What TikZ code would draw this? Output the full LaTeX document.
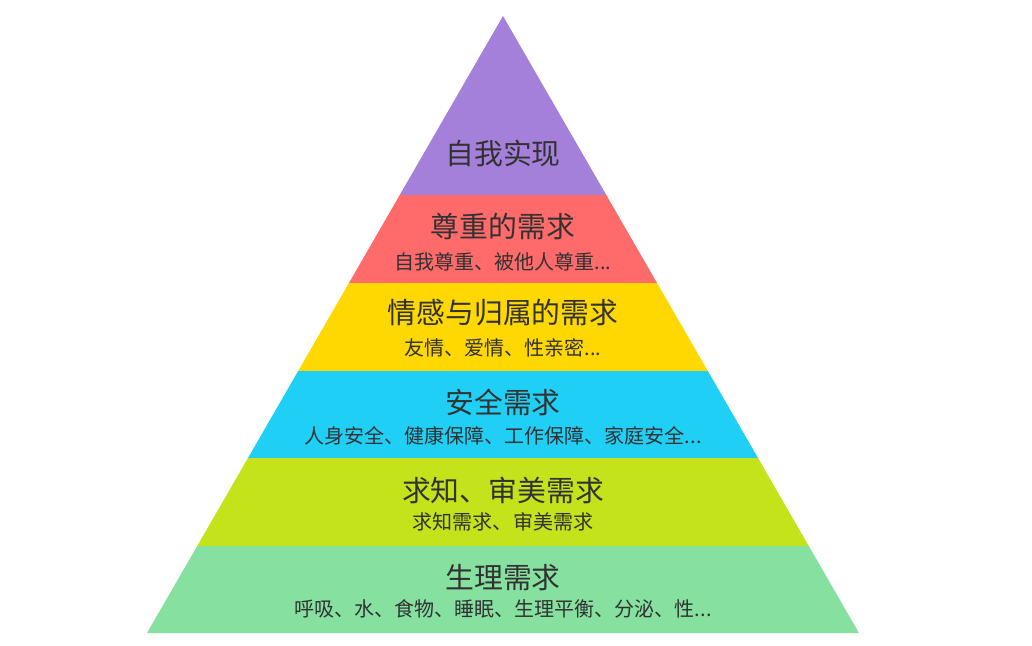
\documentclass[tikz,border=0pt]{standalone}
\usepackage{fontspec}
\newfontfamily\cjk{Noto Sans CJK SC}
\usepackage{tikz}
\definecolor{pyrpurple}{RGB}{164,128,218}
\definecolor{pyrred}{RGB}{255,107,107}
\definecolor{pyryellow}{RGB}{254,216,0}
\definecolor{pyrcyan}{RGB}{32,207,246}
\definecolor{pyrlime}{RGB}{196,227,26}
\definecolor{pyrgreen}{RGB}{134,225,160}
\definecolor{textgray}{RGB}{50,50,50}

\begin{document}
\begin{tikzpicture}[x=0.02cm,y=-0.02cm]
\useasboundingbox (0,0) rectangle (1032,646);
\def\xA{503} \def\yA{16} \def\k{0.577}
\tikzset{lvl/.style={font=\cjk\fontsize{16.4}{18}\selectfont,text=textgray,inner sep=0pt}}
\tikzset{note/.style={font=\cjk\fontsize{11.4}{13}\selectfont,text=textgray,inner sep=0pt}}
% bands, top to bottom
\foreach \yt/\yb/\col in {16/195/pyrpurple, 195/283/pyrred, 283/371/pyryellow, 371/458/pyrcyan, 458/546/pyrlime, 546/633/pyrgreen} {
  \fill[\col] ({\xA-\k*(\yt-\yA)},\yt) -- ({\xA+\k*(\yt-\yA)},\yt) -- ({\xA+\k*(\yb-\yA)},\yb) -- ({\xA-\k*(\yb-\yA)},\yb) -- cycle;
}
% labels
\node[lvl] (self) at (\xA,153) {自我实现};
\node[lvl] (esteem) at (\xA,227) {尊重的需求};
\node[note] (esteem-n) at (\xA,262) {自我尊重、被他人尊重...};
\node[lvl] (love) at (\xA,313) {情感与归属的需求};
\node[note] (love-n) at (\xA,348) {友情、爱情、性亲密...};
\node[lvl] (safety) at (\xA,402) {安全需求};
\node[note] (safety-n) at (\xA,436) {人身安全、健康保障、工作保障、家庭安全...};
\node[lvl] (know) at (\xA,490) {求知、审美需求};
\node[note] (know-n) at (\xA,522) {求知需求、审美需求};
\node[lvl] (body) at (\xA,578) {生理需求};
\node[note] (body-n) at (\xA,609) {呼吸、水、食物、睡眠、生理平衡、分泌、性...};
\end{tikzpicture}
\end{document}
